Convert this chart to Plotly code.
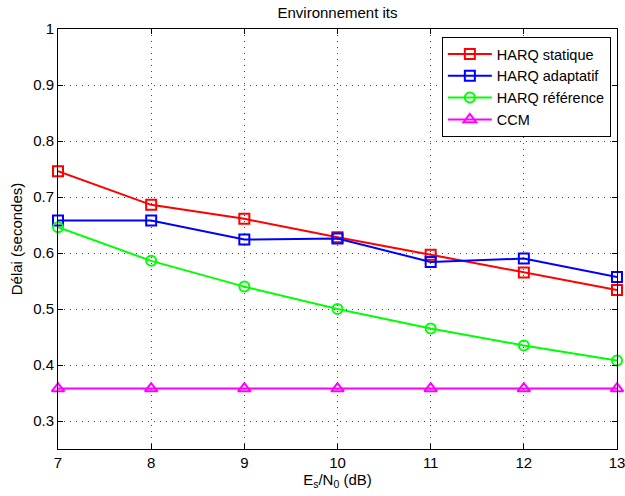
import plotly.graph_objects as go

# Es/N0 (dB)
snr_db = [7, 8, 9, 10, 11, 12, 13]

# délai moyen (secondes)
harq_statique = [0.746, 0.686, 0.661, 0.628, 0.597, 0.565, 0.534]
harq_adaptatif = [0.658, 0.658, 0.624, 0.626, 0.584, 0.590, 0.557]
harq_reference = [0.646, 0.586, 0.540, 0.500, 0.465, 0.435, 0.408]
ccm = [0.358, 0.358, 0.358, 0.358, 0.358, 0.358, 0.358]

series = [
    ("HARQ statique", harq_statique, "#ff0000", "square-open", 10),
    ("HARQ adaptatif", harq_adaptatif, "#0000ff", "square-open", 10),
    ("HARQ référence", harq_reference, "#00ff00", "circle-open", 10),
    ("CCM", ccm, "#ff00ff", "triangle-up-open", 11),
]

fig = go.Figure()
for name, vals, color, symbol, size in series:
    fig.add_trace(go.Scatter(
        x=snr_db,
        y=vals,
        name=name,
        mode="lines+markers",
        cliponaxis=False,
        line=dict(color=color, width=2),
        marker=dict(symbol=symbol, size=size, color=color, line=dict(color=color, width=2)),
    ))

axis_style = dict(
    showline=True,
    linecolor="black",
    linewidth=1,
    mirror="allticks",
    ticks="inside",
    ticklen=5,
    tickcolor="black",
    showgrid=True,
    gridcolor="#444444",
    gridwidth=1,
    griddash="1px,5px",
    zeroline=False,
    automargin=False,
    ticklabeloverflow="allow",
    tickfont=dict(size=15, color="black"),
)

fig.update_xaxes(
    range=[7, 13],
    tickvals=snr_db,
    title=dict(text="E<sub>s</sub>/N<sub>0</sub> (dB)", font=dict(size=15, color="black"), standoff=4),
    **axis_style,
)
fig.update_yaxes(
    range=[0.25, 1],
    tickvals=[0.3, 0.4, 0.5, 0.6, 0.7, 0.8, 0.9, 1],
    ticktext=["0.3", "0.4", "0.5", "0.6", "0.7", "0.8", "0.9", "1"],
    title=dict(text="Délai (secondes)", font=dict(size=15, color="black"), standoff=6),
    **axis_style,
)

fig.update_layout(
    width=625,
    height=496,
    margin=dict(l=58, r=8, t=29, b=47),
    paper_bgcolor="white",
    plot_bgcolor="white",
    font=dict(family="Liberation Sans, Arial, sans-serif", size=15, color="black"),
    title=dict(text="Environnement its", x=0.54, xanchor="center", y=0.985, yanchor="top",
               font=dict(size=15, color="black")),
    legend=dict(
        x=0.989, y=0.981, xanchor="right", yanchor="top",
        bgcolor="white", bordercolor="black", borderwidth=1,
        font=dict(size=14.5, color="black"),
        itemwidth=44,
        tracegroupgap=0,
    ),
    showlegend=True,
)

fig.write_html(
    "out.html",
    config={"displayModeBar": False},
    post_script="document.body.style.margin='0';",
)
